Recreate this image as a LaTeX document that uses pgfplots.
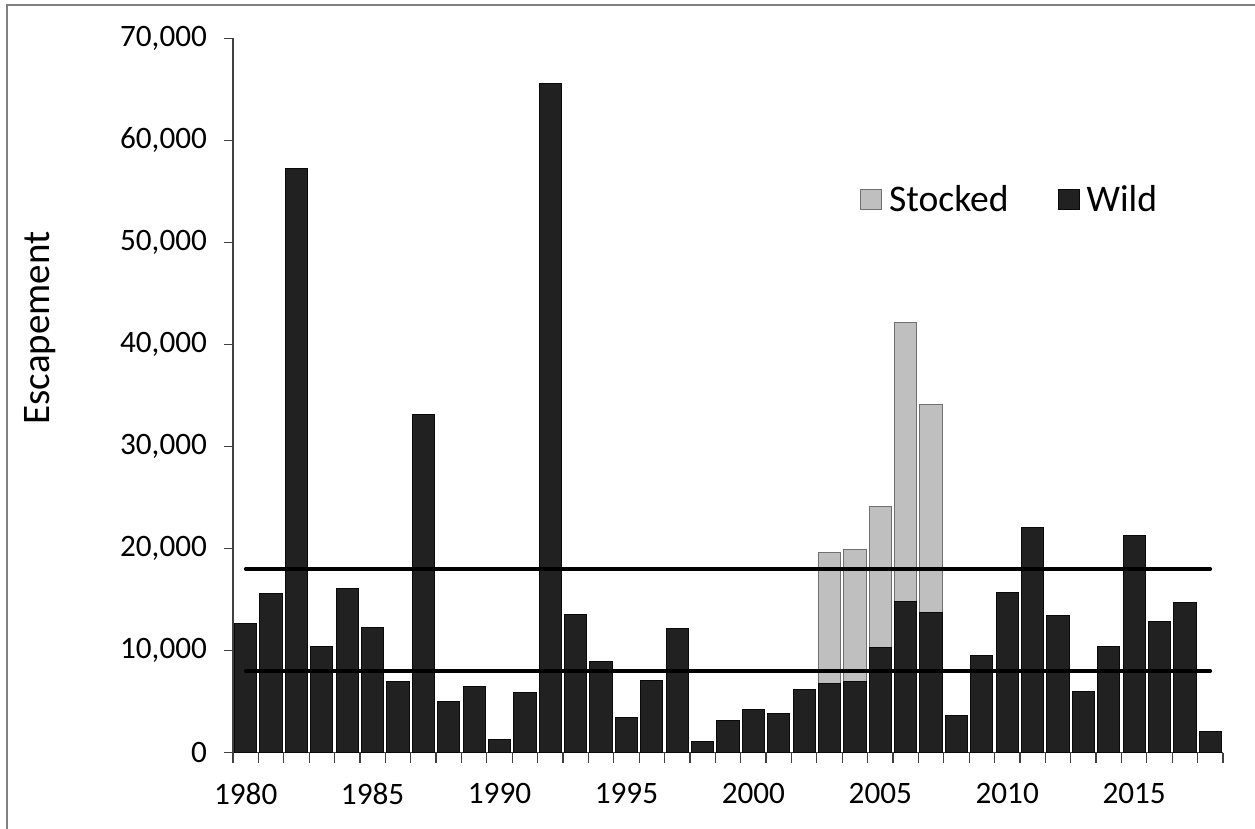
\documentclass[border=0pt]{standalone}
\usepackage{fontspec}
\setmainfont{Carlito}
\usepackage{pgfplots}
\usepackage{pgfplotstable}
\pgfplotsset{compat=1.18}
\definecolor{wild}{HTML}{212121}
\definecolor{wildedge}{HTML}{0A0A0A}
\definecolor{stock}{HTML}{BFBFBF}
\definecolor{stockedge}{HTML}{707070}

\pgfplotstableread{
year wild
1980 12700
1981 15550
1982 57200
1983 10400
1984 16100
1985 12250
1986 6950
1987 33100
1988 5050
1989 6500
1990 1250
1991 5900
1992 65600
1993 13500
1994 8950
1995 3450
1996 7100
1997 12150
1998 1100
1999 3200
2000 4250
2001 3850
2002 6200
2003 6800
2004 6950
2005 10350
2006 14800
2007 13700
2008 3600
2009 9500
2010 15700
2011 22100
2012 13400
2013 6000
2014 10450
2015 21300
2016 12900
2017 14750
2018 2050
}\wildtable

% total escapement (wild + stocked) in the years with stocked fish
\pgfplotstableread{
year total
2003 19600
2004 19950
2005 24150
2006 42150
2007 34100
}\stocktable

\begin{document}
\begin{tikzpicture}[x=1pt,y=1pt]
\useasboundingbox (0,0) rectangle (627.5,414.5);
\draw[color=black!50, line width=0.75pt] (3.5,0) -- (3.5,412) -- (627.5,412);
\node[rotate=90, anchor=base, font=\fontsize{19.5}{23}\selectfont] at (25,250.5) {Escapement};
\begin{axis}[
  at={(116.5pt,38.15pt)}, anchor=south west,
  scale only axis, width=495pt, height=357.2pt,
  xmin=1979.5, xmax=2018.5, ymin=0, ymax=70000,
  axis x line*=bottom, axis y line*=left,
  axis line style={-, draw=black!75, line width=0.6pt},
  tick align=outside,
  xtick={1980,1985,...,2015},
  xticklabels={1980,1985,1990,1995,2000,2005,2010,2015},
  minor xtick={1979.5,1980.5,...,2018.5},
  major x tick style={draw=none},
  minor tick length=5pt, major tick length=4.5pt,
  tick style={draw=black!75, line width=0.6pt},
  ytick={0,10000,...,70000},
  scaled y ticks=false,
  yticklabel style={/pgf/number format/1000 sep={,}, /pgf/number format/assume math mode=true, xshift=-5pt},
  xticklabel style={yshift=-7pt},
  ticklabel style={font=\fontsize{15.6}{18}\selectfont},
  legend columns=2,
  legend style={at={(rel axis cs:0.633,0.774)}, anchor=west, draw=none, fill=none,
    inner sep=0pt, font=\fontsize{18.8}{22}\selectfont,
    nodes={inner xsep=3.5pt, inner ysep=1pt},
    /tikz/every even column/.append style={column sep=21pt}},
  legend image code/.code={\draw[#1] (0pt,-5pt) rectangle (10.5pt,5pt);},
]
\addplot[ybar, bar width=11.15pt, bar shift=0pt, fill=stock, draw=stockedge, line width=0.5pt, forget plot]
  table[x=year, y=total] {\stocktable};
\addplot[ybar, bar width=11.15pt, bar shift=0pt, fill=wild, draw=wildedge, line width=0.5pt, forget plot]
  table[x=year, y=wild] {\wildtable};
\addplot[black, line width=1.75pt, line cap=round, forget plot] coordinates {(1980,18000) (2018,18000)};
\addplot[black, line width=1.75pt, line cap=round, forget plot] coordinates {(1980,8000) (2018,8000)};
\addlegendimage{fill=stock, draw=stockedge, line width=0.5pt}
\addlegendentry{Stocked}
\addlegendimage{fill=wild, draw=wildedge, line width=0.5pt}
\addlegendentry{Wild}
\end{axis}
\end{tikzpicture}
\end{document}
